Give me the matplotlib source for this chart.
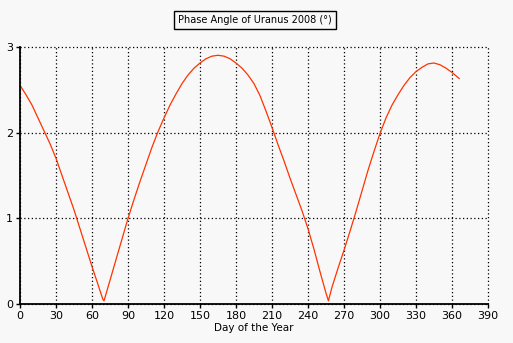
import numpy as np
import matplotlib
matplotlib.use('Agg')
import matplotlib.pyplot as plt

# day of year and phase angle (degrees)
days = [0, 5, 10, 15, 20, 25, 30, 35, 40, 45, 50, 55, 60, 65, 69, 70,
        75, 80, 85, 90, 95, 100, 105, 110, 115, 120, 125, 130, 135, 140,
        145, 150, 155, 160, 165, 170, 175, 180, 185, 190, 195, 200, 205,
        210, 215, 220, 225, 230, 235, 240, 245, 250, 255, 257, 260, 265,
        270, 275, 280, 285, 290, 295, 300, 305, 310, 315, 320, 325, 330,
        335, 340, 345, 350, 355, 360, 366]
phase = [2.55, 2.44, 2.32, 2.17, 2.02, 1.87, 1.70, 1.50, 1.30, 1.10, 0.88,
         0.66, 0.44, 0.23, 0.06, 0.04,
         0.28, 0.52, 0.76, 1.00, 1.22, 1.43, 1.63, 1.83, 2.01, 2.17, 2.32,
         2.45, 2.57, 2.67, 2.75, 2.81, 2.86, 2.89, 2.90, 2.89, 2.86, 2.81,
         2.75, 2.67, 2.57, 2.43, 2.25,
         2.06, 1.86, 1.67, 1.47, 1.28, 1.09, 0.88, 0.64, 0.38, 0.13, 0.04,
         0.20, 0.42, 0.63, 0.85, 1.08, 1.32, 1.56, 1.78, 1.99, 2.17, 2.32,
         2.44, 2.55, 2.64, 2.71, 2.76, 2.80, 2.81, 2.79, 2.75, 2.70, 2.63]

xticks = np.arange(0, 391, 30)
yticks = [0, 1, 2, 3]

bg = '#f8f8f8'
fig = plt.figure(figsize=(5.13, 3.43), dpi=100, facecolor=bg)
ax = fig.add_axes([20/513, 1 - 304.3/343, 468/513, 257.6/343], facecolor=bg)

ax.plot(days, phase, color='#ff3300', lw=0.9)

ax.set_xlim(0, 390)
ax.set_ylim(0, 3)
ax.set_xticks(xticks)
ax.set_yticks(yticks)
ax.tick_params(labelsize=8, length=3, width=1, direction='out', pad=2)
ax.grid(True, color='black', linestyle=(0, (1, 2)), linewidth=0.9)
for gl in ax.get_xgridlines() + ax.get_ygridlines():
    gl.set_clip_on(False)

for s in ['top', 'right']:
    ax.spines[s].set_visible(False)
for s in ['left', 'bottom']:
    ax.spines[s].set_linewidth(1.3)
    ax.spines[s].set_zorder(3)

ax.set_xlabel('Day of the Year', fontsize=7.5, labelpad=1)

fig.text(0.497, 1 - 20/343, 'Phase Angle of Uranus 2008 (°)', ha='center', va='center',
         fontsize=7,
         bbox=dict(boxstyle='square,pad=0.4', facecolor=bg, edgecolor='black', linewidth=1))

fig.savefig('out.png', dpi=100, facecolor=bg)
